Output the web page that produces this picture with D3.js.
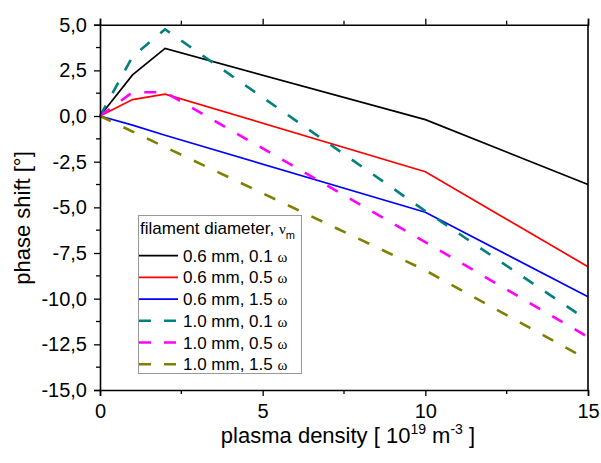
<!DOCTYPE html>
<html>
<head>
<meta charset="utf-8">
<script src="https://cdn.jsdelivr.net/npm/d3@7"></script>
<style>
  body { margin: 0; background: #fff; }
  text { font-family: "Liberation Sans", Arial, sans-serif; fill: #000; }
</style>
</head>
<body>
<div id="chart"></div>
<script>
// data
const density = [0, 1, 2, 10, 15];
const seriesNames = ["0.6 mm, 0.1", "0.6 mm, 0.5", "0.6 mm, 1.5", "1.0 mm, 0.1", "1.0 mm, 0.5", "1.0 mm, 1.5"];
const shift06_01 = [0, 2.25, 3.7, -0.2, -3.75];
const shift06_05 = [0, 0.9, 1.2, -3.05, -8.25];
const shift06_15 = [0, -0.5, -1.05, -5.27, -9.9];
const shift10_01 = [0, 3.25, 4.75, -5.2, -11.2];
const shift10_05 = [0, 1.3, 1.3, -6.9, -12.1];
const shift10_15 = [0, -0.85, -1.7, -8.45, -13.35];
const xTicks = [0, 5, 10, 15];
const yTicks = [5, 2.5, 0, -2.5, -5, -7.5, -10, -12.5, -15];

const allShifts = [shift06_01, shift06_05, shift06_15, shift10_01, shift10_05, shift10_15];
const colors = ["#000000", "#ff0000", "#0000ff", "#008080", "#ff00ff", "#808000"];
const dashed = [false, false, false, true, true, true];

const W = 601, H = 463;
const plot = { left: 100, right: 588, top: 24.7, bottom: 390 };

const svg = d3.select("#chart").append("svg")
    .attr("width", W)
    .attr("height", H);

const x = d3.scaleLinear().domain([0, 15]).range([plot.left, plot.right]);
const y = d3.scaleLinear().domain([-15, 5]).range([plot.bottom, plot.top]);

const fmt = v => v.toFixed(1).replace(".", ",");

// minor ticks
const xMinor = d3.range(0, 15.01, 2.5).filter(v => v % 5 != 0);
const yMinor = d3.range(-15, 5.01, 1.25).filter(v => Math.abs(v % 2.5) > 0.01);

// lines
const line = d3.line()
    .x((d, i) => x(density[i]))
    .y(d => y(d));

allShifts.forEach((vals, k) => {
    svg.append("path")
        .datum(vals)
        .attr("fill", "none")
        .attr("stroke", colors[k])
        .attr("stroke-width", dashed[k] ? 2.6 : 1.7)
        .attr("stroke-dasharray", dashed[k] ? "12,14" : null)
        .attr("d", line);
});

// bottom axis
let xAxis = svg.append("g")
    .attr("transform", "translate(0," + plot.bottom + ")")
    .call(d3.axisBottom(x).tickValues(xTicks).tickSizeOuter(0).tickSize(6).tickPadding(8).tickFormat(d3.format("d")));
xAxis.append("g").selectAll("line").data(xMinor).join("line")
    .attr("x1", d => x(d)).attr("x2", d => x(d))
    .attr("y1", 0).attr("y2", 4).attr("stroke", "#000").attr("stroke-width", 1.3);

// top axis (no labels)
let xTop = svg.append("g")
    .attr("transform", "translate(0," + plot.top + ")")
    .call(d3.axisTop(x).tickValues(xTicks).tickSizeOuter(0).tickSize(6).tickFormat(""));
xTop.append("g").selectAll("line").data(xMinor).join("line")
    .attr("x1", d => x(d)).attr("x2", d => x(d))
    .attr("y1", 0).attr("y2", -4).attr("stroke", "#000").attr("stroke-width", 1.3);

// left axis
let yAxis = svg.append("g")
    .attr("transform", "translate(" + plot.left + ",0)")
    .call(d3.axisLeft(y).tickValues(yTicks).tickSizeOuter(0).tickSize(6).tickPadding(7).tickFormat(fmt));
yAxis.append("g").selectAll("line").data(yMinor).join("line")
    .attr("x1", 0).attr("x2", -4)
    .attr("y1", d => y(d)).attr("y2", d => y(d)).attr("stroke", "#000").attr("stroke-width", 1.3);

// right axis, plain line
svg.append("line")
    .attr("x1", plot.right).attr("x2", plot.right)
    .attr("y1", plot.top).attr("y2", plot.bottom)
    .attr("stroke", "#000").attr("stroke-width", 1.6);

svg.selectAll(".domain").attr("stroke", "#000").attr("stroke-width", 1.6);
svg.selectAll(".tick line").attr("stroke", "#000").attr("stroke-width", 1.3);
svg.selectAll(".tick text")
    .style("font-family", "'Liberation Sans', Arial, sans-serif")
    .style("font-size", "20px")
    .attr("fill", "#000");

// axis titles
let xTitle = svg.append("text")
    .attr("x", 348)
    .attr("y", 443)
    .attr("text-anchor", "middle")
    .style("font-size", "22px");
xTitle.append("tspan").text("plasma density [ 10");
xTitle.append("tspan").text("19").attr("dy", -9).style("font-size", "14px");
xTitle.append("tspan").text(" m").attr("dy", 9);
xTitle.append("tspan").text("-3").attr("dy", -9).style("font-size", "14px");
xTitle.append("tspan").text(" ]").attr("dy", 9);

svg.append("text")
    .attr("transform", "translate(30," + 218 + ") rotate(-90)")
    .attr("text-anchor", "middle")
    .style("font-size", "22px")
    .text("phase shift [°]");

// legend
const lg = svg.append("g");
lg.append("rect")
    .attr("x", 138.5).attr("y", 215.5)
    .attr("width", 163).attr("height", 158)
    .attr("fill", "#fff")
    .attr("stroke", "#999")
    .attr("stroke-width", 1);

let lt = lg.append("text")
    .attr("x", 140)
    .attr("y", 234)
    .style("font-size", "17px");
lt.append("tspan").text("filament diameter, ");
lt.append("tspan").text("ν").style("font-family", "'Liberation Serif', serif").style("font-size", "15px");
lt.append("tspan").text("m").attr("dy", 5).style("font-size", "11px");

seriesNames.forEach((name, k) => {
    let cy = 255.7 + k * 21.7;
    lg.append("line")
        .attr("x1", 139).attr("x2", 178)
        .attr("y1", cy).attr("y2", cy)
        .attr("stroke", colors[k])
        .attr("stroke-width", dashed[k] ? 2.6 : 1.7)
        .attr("stroke-dasharray", dashed[k] ? "12,13" : null);
    let t = lg.append("text")
        .attr("x", 183)
        .attr("y", cy + 6)
        .style("font-size", "17px");
    t.append("tspan").text(name + " ");
    t.append("tspan").text("ω").style("font-family", "'Liberation Serif', serif").style("font-size", "15px");
});
</script>
</body>
</html>
